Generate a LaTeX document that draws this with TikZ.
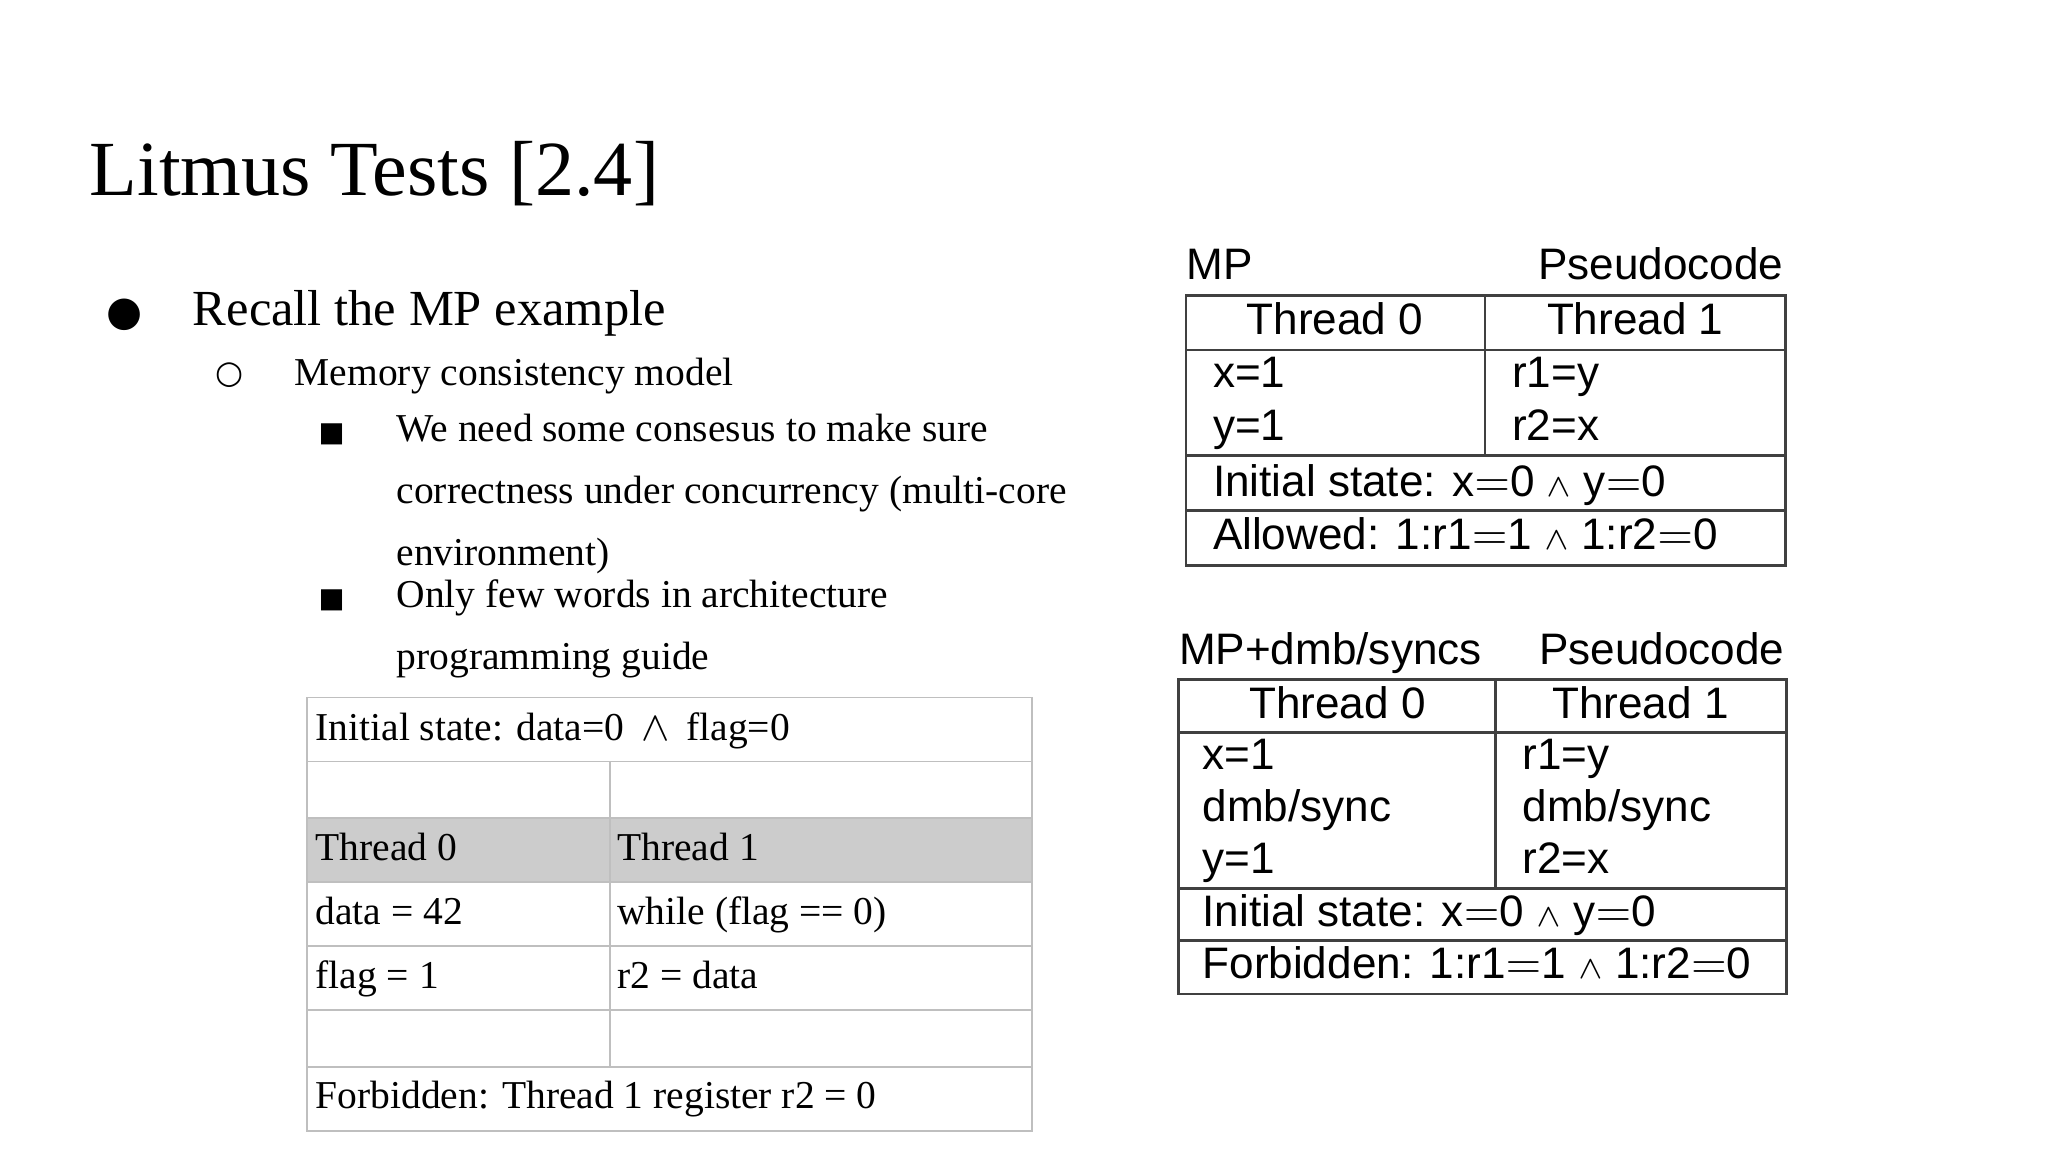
\documentclass[tikz,border=0pt]{standalone}
\usepackage{fontspec}
\setmainfont{Liberation Serif}
\newfontfamily\arial{Liberation Sans}
\newfontfamily\symfont{DejaVu Sans}
\begin{document}
\begin{tikzpicture}[x=0.01cm,y=-0.01cm,
  ttl/.style={anchor=base west,inner sep=0,font=\fontsize{17}{20}\selectfont},
  lv1/.style={anchor=base west,inner sep=0,font=\fontsize{11}{13}\selectfont},
  lv2/.style={anchor=base west,inner sep=0,font=\fontsize{8.6}{12}\selectfont},
  tc/.style={anchor=base west,inner sep=0,font=\fontsize{8.6}{10}\selectfont},
  ar/.style={anchor=base west,inner sep=0,font=\arial\fontsize{9.6}{11}\selectfont},
  arc/.style={anchor=base,inner sep=0,font=\arial\fontsize{9.6}{11}\selectfont},
  lgrid/.style={draw=black!25,line width=0.4pt},
  rgrid/.style={draw=black!75,line width=0.6pt}]
\useasboundingbox (0,0) rectangle (1568,882);
\node[ttl] (title) at (68,150) {Litmus Tests [2.4]};
\node[anchor=base,inner sep=0,font=\symfont\fontsize{9}{10}\selectfont] (b1) at (95,249) {●};
\node[lv1] (t1) at (147,249) {Recall the MP example};
\node[anchor=base,inner sep=0,font=\symfont\fontsize{7}{8}\selectfont] (b2) at (176,294) {○};
\node[lv2] (t2) at (225,295) {Memory consistency model};
\node[anchor=base,inner sep=0,font=\symfont\fontsize{6}{7}\selectfont] (b3) at (254,338) {■};
\node[lv2,align=left,anchor=north west] (t3) at (303,316) {We need some consesus to make sure\\[1.5pt]correctness under concurrency (multi-core\\[1.5pt]environment)};
\node[anchor=base,inner sep=0,font=\symfont\fontsize{6}{7}\selectfont] (b4) at (254,465) {■};
\node[lv2,align=left,anchor=north west] (t4) at (303,443) {Only few words in architecture\\[1.5pt]programming guide};
% left table
\fill[black!20] (235,626) rectangle (790,675);
\draw[lgrid] (235,534) rectangle (790,866);
\foreach \y in {583,626,675,724,773,817} \draw[lgrid] (235,\y) -- (790,\y);
\draw[lgrid] (467,583) -- (467,817);
\node[tc] (c1) at (241,567) {Initial state: data=0 $\,\wedge\,$ flag=0};
\node[tc] (c2) at (241,659) {Thread 0};
\node[tc] (c3) at (472,659) {Thread 1};
\node[tc] (c4) at (241,708) {data = 42};
\node[tc] (c5) at (472,708) {while (flag == 0)};
\node[tc] (c6) at (241,757) {flag = 1};
\node[tc] (c7) at (472,757) {r2 = data};
\node[tc] (c8) at (241,849) {Forbidden: Thread 1 register r2 = 0};
% right table 1
\node[ar] (m1) at (908,214) {MP};
\node[ar,anchor=base east] (m2) at (1366,214) {Pseudocode};
\draw[rgrid] (908,226) rectangle (1367,433);
\foreach \y in {268,349,391} \draw[rgrid] (908,\y) -- (1367,\y);
\draw[rgrid] (1137,226) -- (1137,349);
\node[arc] (m3) at (1022,256) {Thread 0};
\node[arc] (m4) at (1252,256) {Thread 1};
\node[ar] (m5) at (928,297) {x=1};
\node[ar] (m6) at (928,337) {y=1};
\node[ar] (m7) at (1157,297) {r1=y};
\node[ar] (m8) at (1157,337) {r2=x};
\node[ar] (m9) at (928,380) {Initial state: x$=$0 {\scriptsize$\wedge$} y$=$0};
\node[ar] (m10) at (928,421) {Allowed: 1:r1$=$1 {\scriptsize$\wedge$} 1:r2$=$0};
% right table 2
\node[ar] (n1) at (902,509) {MP+dmb/syncs};
\node[ar,anchor=base east] (n2) at (1367,509) {Pseudocode};
\draw[rgrid] (902,520) rectangle (1368,761);
\foreach \y in {561,680,720} \draw[rgrid] (902,\y) -- (1368,\y);
\draw[rgrid] (1145,520) -- (1145,680);
\node[arc] (n3) at (1024,550) {Thread 0};
\node[arc] (n4) at (1256,550) {Thread 1};
\node[ar] (n5) at (920,589) {x=1};
\node[ar] (n6) at (920,629) {dmb/sync};
\node[ar] (n7) at (920,669) {y=1};
\node[ar] (n8) at (1165,589) {r1=y};
\node[ar] (n9) at (1165,629) {dmb/sync};
\node[ar] (n10) at (1165,669) {r2=x};
\node[ar] (n11) at (920,709) {Initial state: x$=$0 {\scriptsize$\wedge$} y$=$0};
\node[ar] (n12) at (920,749) {Forbidden: 1:r1$=$1 {\scriptsize$\wedge$} 1:r2$=$0};
\end{tikzpicture}
\end{document}
